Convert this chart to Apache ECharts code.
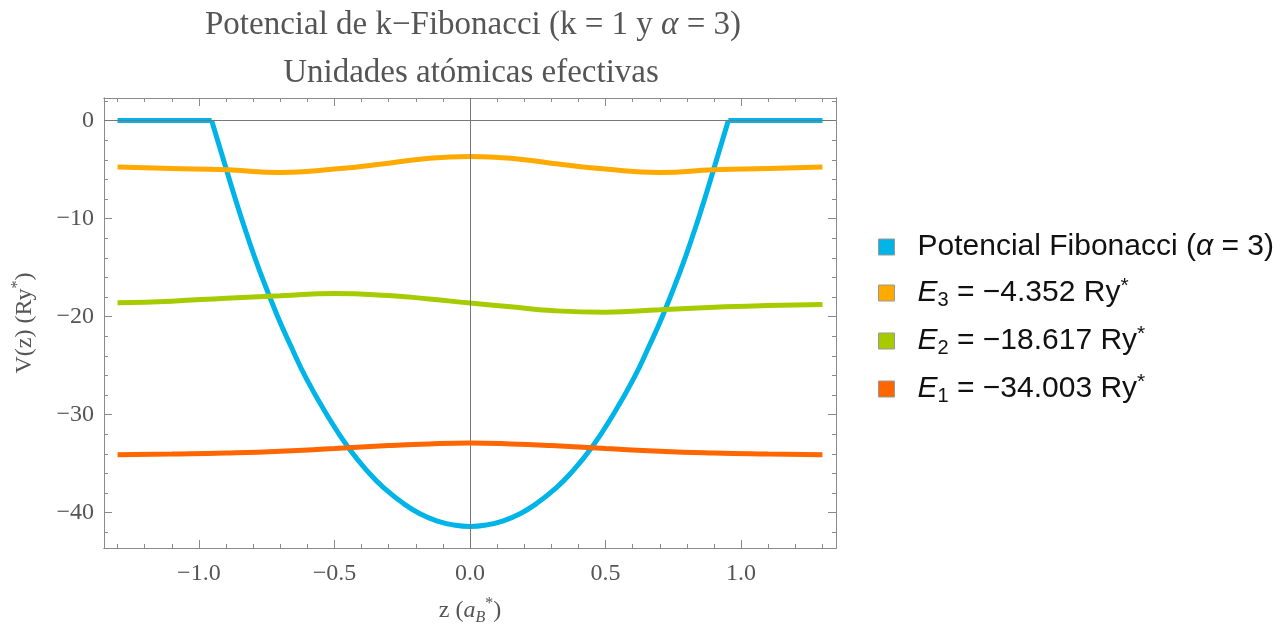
<!DOCTYPE html>
<html>
<head>
<meta charset="utf-8">
<title>Potencial de k-Fibonacci</title>
<script src="https://cdn.jsdelivr.net/npm/echarts@6/dist/echarts.min.js"></script>
<style>
    html, body { margin: 0; padding: 0; background: #fff; }
    #chart { width: 1288px; height: 631px; }
</style>
</head>
<body>
<div id="chart"></div>
<script>
    // pozo de potencial (parte curva) y las mesetas en V = 0
    var zPot = [-0.953, -0.898, -0.862, -0.824, -0.775, -0.713, -0.66, -0.603, -0.529, -0.449,
                -0.369, -0.31, -0.246, -0.185, -0.123, -0.06, 0,
                0.06, 0.123, 0.185, 0.246, 0.31, 0.369,
                0.449, 0.529, 0.603, 0.66, 0.713, 0.775, 0.824, 0.862, 0.898, 0.953];
    var vPot = [0, -5.05, -8.3, -11.55, -15.4, -19.75, -23.05, -26.35, -29.95, -33.35,
                -36.05, -37.65, -39.05, -40.1, -40.83, -41.25, -41.4,
                -41.25, -40.83, -40.1, -39.05, -37.65, -36.05,
                -33.35, -29.95, -26.35, -23.05, -19.75, -15.4, -11.55, -8.3, -5.05, 0];
    var zFlatLeft = [-1.3, -0.953];
    var zFlatRight = [0.953, 1.3];
    var vFlat = [0, 0];

    // niveles de energia (E + funcion de onda)
    var zWave = [-1.3, -1.1, -0.9, -0.7, -0.5, -0.3, -0.15, 0, 0.15, 0.3, 0.5, 0.7, 0.9, 1.1, 1.3];
    var e3Wave = [-4.75, -4.89, -5.03, -5.3, -4.95, -4.35, -3.84, -3.67, -3.84, -4.35, -4.95, -5.3, -5.03, -4.89, -4.75];
    var e2Wave = [-18.59, -18.42, -18.12, -17.88, -17.64, -17.85, -18.2, -18.62, -19.0, -19.38, -19.55, -19.3, -19.05, -18.86, -18.76];
    var e1Wave = [-34.09, -34.02, -33.92, -33.74, -33.45, -33.15, -32.98, -32.9, -32.98, -33.15, -33.45, -33.74, -33.92, -34.02, -34.09];

    // marcas de los ejes
    var xMajor = [-1, -0.5, 0, 0.5, 1];
    var xMinor = [-1.3, -1.2, -1.1, -0.9, -0.8, -0.7, -0.6, -0.4, -0.3, -0.2, -0.1,
                  0.1, 0.2, 0.3, 0.4, 0.6, 0.7, 0.8, 0.9, 1.1, 1.2, 1.3];
    var yMajor = [0, -10, -20, -30, -40];
    var yMinor = [2, -2, -4, -6, -8, -12, -14, -16, -18, -22, -24, -26, -28,
                  -32, -34, -36, -38, -42];

    var names = ['Potencial Fibonacci (α = 3)', 'E3 = −4.352 Ry*', 'E2 = −18.617 Ry*', 'E1 = −34.003 Ry*'];
    var colors = ['#00B4E8', '#FFAA00', '#A6CC00', '#FF6600'];

    function pairs(xs, ys) {
        return xs.map(function (x, i) { return [x, ys[i]]; });
    }

    var frameColor = '#8a8a8a';
    var serif = 'Liberation Serif';

    function xAxisDef(pos, ticks, len, labels) {
        return {
            type: 'value', position: pos, min: -1.35, max: 1.35,
            axisLine: { show: true, onZero: false, lineStyle: { color: frameColor, width: 1 } },
            axisTick: { show: true, inside: true, length: len, customValues: ticks, lineStyle: { color: frameColor } },
            axisLabel: labels ? {
                show: true, customValues: labels, margin: 14,
                fontFamily: serif, fontSize: 24, color: '#555',
                formatter: function (v) { return (v < 0 ? '−' : '') + Math.abs(v).toFixed(1); }
            } : { show: false },
            splitLine: { show: false }
        };
    }
    function yAxisDef(pos, ticks, len, labels) {
        return {
            type: 'value', position: pos, min: -43.6, max: 2.3,
            axisLine: { show: true, onZero: false, lineStyle: { color: frameColor, width: 1 } },
            axisTick: { show: true, inside: true, length: len, customValues: ticks, lineStyle: { color: frameColor } },
            axisLabel: labels ? {
                show: true, customValues: labels, margin: 10,
                fontFamily: serif, fontSize: 24, color: '#555',
                formatter: function (v) { return (v < 0 ? '−' : '') + Math.abs(v); }
            } : { show: false },
            splitLine: { show: false }
        };
    }

    var xBottom = xAxisDef('bottom', xMajor, 8, xMajor);
    xBottom.name = '{t|z (}{it|a}{sub|B}{sup|*}{t|)}';
    xBottom.nameLocation = 'middle';
    xBottom.nameGap = 48;
    xBottom.nameTextStyle = {
        rich: {
            t: { fontFamily: serif, fontSize: 24, color: '#555', lineHeight: 30 },
            it: { fontFamily: serif, fontSize: 24, color: '#555', fontStyle: 'italic', lineHeight: 30 },
            sub: { fontFamily: serif, fontSize: 16, color: '#555', fontStyle: 'italic', lineHeight: 16, verticalAlign: 'bottom' },
            sup: { fontFamily: serif, fontSize: 16, color: '#555', lineHeight: 16, verticalAlign: 'top' }
        }
    };
    var yLeft = yAxisDef('left', yMajor, 8, yMajor);
    yLeft.name = '{t|V(z) (Ry}{sup|*}{t|)}';
    yLeft.nameLocation = 'middle';
    yLeft.nameGap = 64;
    yLeft.nameRotate = 90;
    yLeft.nameTextStyle = {
        rich: {
            t: { fontFamily: serif, fontSize: 24, color: '#555', lineHeight: 30 },
            sup: { fontFamily: serif, fontSize: 16, color: '#555', lineHeight: 16, verticalAlign: 'top' }
        }
    };

    var richLegend = {
        g: { width: 18 },
        n: { fontFamily: 'Liberation Sans', fontSize: 30, color: '#111', lineHeight: 34 },
        i: { fontFamily: 'Liberation Sans', fontSize: 30, color: '#111', fontStyle: 'italic', lineHeight: 34 },
        sub: { fontFamily: 'Liberation Sans', fontSize: 20, color: '#111', lineHeight: 20, verticalAlign: 'bottom' },
        sup: { fontFamily: 'Liberation Sans', fontSize: 21, color: '#111', lineHeight: 26, verticalAlign: 'top' }
    };

    var lineBase = { type: 'line', showSymbol: false, symbol: 'none', lineStyle: { width: 5 }, xAxisIndex: 0, yAxisIndex: 0 };
    function mk(extra) { return Object.assign({}, lineBase, extra); }

    var option = {
        animation: false,
        backgroundColor: '#fff',
        color: colors,
        title: [
            {
                text: '{r|Potencial de k−Fibonacci (k = 1 y }{i|α}{r| = 3)}',
                left: 468, top: 4, textAlign: 'center',
                textStyle: {
                    rich: {
                        r: { fontFamily: serif, fontSize: 33, fontWeight: 'normal', color: '#555' },
                        i: { fontFamily: serif, fontSize: 33, fontWeight: 'normal', color: '#555', fontStyle: 'italic' }
                    }
                }
            },
            {
                text: 'Unidades atómicas efectivas',
                left: 466, top: 52, textAlign: 'center',
                textStyle: { fontFamily: serif, fontSize: 33, fontWeight: 'normal', color: '#555' }
            }
        ],
        grid: { left: 104, right: 452, top: 98, bottom: 82 },
        legend: {
            orient: 'vertical', left: 873, top: 227,
            icon: 'rect', itemWidth: 16, itemHeight: 16, itemGap: 14,
            itemStyle: { borderColor: '#999', borderWidth: 1 },
            data: names,
            textStyle: { fontFamily: 'Liberation Sans', fontSize: 30, color: '#111', rich: richLegend },
            formatter: function (name) {
                if (name === names[0]) {
                    return '{g| }{n|Potencial Fibonacci (}{i|α}{n| = 3)}';
                }
                var m = name.match(/^E(\d) = (.*) Ry\*$/);
                return '{g| }{i|E}{sub|' + m[1] + '}{n| = ' + m[2] + ' Ry}{sup|*}';
            }
        },
        xAxis: [
            xBottom,
            xAxisDef('bottom', xMinor, 4, null),
            xAxisDef('top', xMajor, 8, null),
            xAxisDef('top', xMinor, 4, null)
        ],
        yAxis: [
            yLeft,
            yAxisDef('left', yMinor, 4, null),
            yAxisDef('right', yMajor, 8, null),
            yAxisDef('right', yMinor, 4, null)
        ],
        series: [
            mk({
                name: names[0], data: pairs(zPot, vPot), smooth: 0.5, color: colors[0], z: 2,
                markLine: {
                    silent: true, symbol: 'none', label: { show: false },
                    lineStyle: { color: '#777', width: 1, type: 'solid' },
                    data: [{ xAxis: 0 }, { yAxis: 0 }]
                }
            }),
            mk({ name: names[0], data: pairs(zFlatLeft, vFlat), color: colors[0], z: 2 }),
            mk({ name: names[0], data: pairs(zFlatRight, vFlat), color: colors[0], z: 2 }),
            mk({ name: names[1], data: pairs(zWave, e3Wave), smooth: 0.5, color: colors[1], z: 3 }),
            mk({ name: names[2], data: pairs(zWave, e2Wave), smooth: 0.5, color: colors[2], z: 4 }),
            mk({ name: names[3], data: pairs(zWave, e1Wave), smooth: 0.5, color: colors[3], z: 5 })
        ]
    };

    var myChart = echarts.init(document.getElementById('chart'));
    myChart.setOption(option);
</script>
</body>
</html>
